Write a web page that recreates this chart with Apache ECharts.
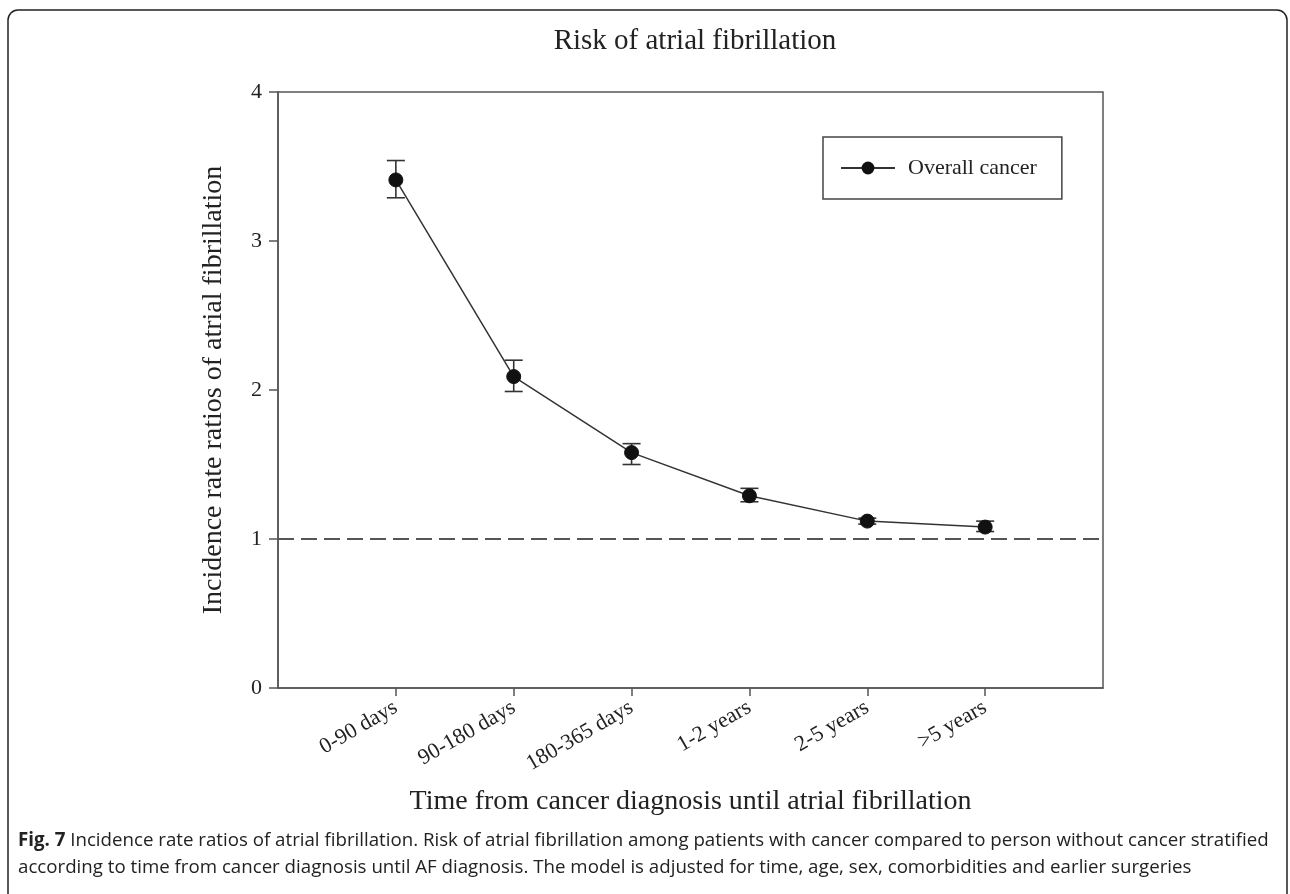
<!DOCTYPE html>
<html>
<head>
<meta charset="utf-8">
<script src="https://cdn.jsdelivr.net/npm/echarts@6/dist/echarts.min.js"></script>
<style>html,body{margin:0;padding:0;background:#fff;}#c{width:1290px;height:894px;}</style>
</head>
<body>
<div id="c"></div>
<script>
const categories = ['0-90 days', '90-180 days', '180-365 days', '1-2 years', '2-5 years', '>5 years'];
const irr = [3.41, 2.09, 1.58, 1.29, 1.12, 1.08];
const ciLow = [3.29, 1.99, 1.50, 1.25, 1.10, 1.05];
const ciHigh = [3.54, 2.20, 1.64, 1.34, 1.14, 1.12];
const xPositions = [1, 2, 3, 4, 5, 6];
const referenceValue = 1;
const seriesName = 'Overall cancer';
const titleText = 'Risk of atrial fibrillation';
const yName = 'Incidence rate ratios of atrial fibrillation';
const xName = 'Time from cancer diagnosis until atrial fibrillation';
const captionBold = 'Fig. 7';
const captionLine1 = ' Incidence rate ratios of atrial fibrillation. Risk of atrial fibrillation among patients with cancer compared to person without cancer stratified';
const captionLine2 = 'according to time from cancer diagnosis until AF diagnosis. The model is adjusted for time, age, sex, comorbidities and earlier surgeries';

const serif = '"Liberation Serif", "DejaVu Serif", serif';
const axisColor = '#555';

const pointData = xPositions.map((x, i) => [x, irr[i]]);
const errData = xPositions.map((x, i) => [x, ciLow[i], ciHigh[i]]);

const chart = echarts.init(document.getElementById('c'));
chart.setOption({
  animation: false,
  backgroundColor: '#fff',
  title: {
    text: titleText,
    left: 690, textAlign: 'center', top: 22,
    textStyle: { fontFamily: serif, fontSize: 29, fontWeight: 'normal', color: '#222' }
  },
  grid: {
    left: 278, top: 92, right: 187, bottom: 206,
    show: true, borderColor: axisColor, borderWidth: 1.5, backgroundColor: 'transparent'
  },
  legend: {
    data: [seriesName],
    left: 823, top: 137,
    orient: 'horizontal',
    borderColor: '#444', borderWidth: 1.5, borderRadius: 0,
    padding: [20, 25, 20, 17],
    itemWidth: 54, itemHeight: 16,
    textStyle: { fontFamily: serif, fontSize: 22, color: '#222', padding: [0, 0, 0, 8] }
  },
  xAxis: {
    type: 'value', min: 0, max: 7, interval: 1,
    name: xName, nameLocation: 'middle', nameGap: 100,
    nameTextStyle: { fontFamily: serif, fontSize: 28, color: '#222' },
    axisLine: { lineStyle: { color: axisColor, width: 1.5 } },
    axisTick: { show: true, inside: false, length: 8, lineStyle: { color: axisColor, width: 1.5 }, customValues: xPositions },
    axisLabel: {
      customValues: xPositions, rotate: 30, margin: 18,
      fontFamily: serif, fontSize: 22, color: '#222',
      formatter: v => categories[Math.round(v) - 1] || ''
    },
    splitLine: { show: false }
  },
  yAxis: {
    type: 'value', min: 0, max: 4, interval: 1,
    name: yName, nameLocation: 'middle', nameGap: 50, nameRotate: 90,
    nameTextStyle: { fontFamily: serif, fontSize: 28, color: '#222' },
    axisLine: { show: true, lineStyle: { color: axisColor, width: 1.5 } },
    axisTick: { show: true, inside: false, length: 9, lineStyle: { color: axisColor, width: 1.5 } },
    axisLabel: { fontFamily: serif, fontSize: 22, color: '#222', margin: 16 },
    splitLine: { show: false }
  },
  series: [
    {
      name: 'ci', type: 'custom', data: errData, z: 3,
      encode: { x: 0, y: [1, 2] },
      renderItem: (params, api) => {
        const x = api.value(0);
        const lo = api.coord([x, api.value(1)]);
        const hi = api.coord([x, api.value(2)]);
        const hw = 9;
        const st = { stroke: '#333', lineWidth: 1.6 };
        return {
          type: 'group',
          children: [
            { type: 'line', shape: { x1: lo[0], y1: lo[1], x2: hi[0], y2: hi[1] }, style: st },
            { type: 'line', shape: { x1: lo[0] - hw, y1: lo[1], x2: lo[0] + hw, y2: lo[1] }, style: st },
            { type: 'line', shape: { x1: hi[0] - hw, y1: hi[1], x2: hi[0] + hw, y2: hi[1] }, style: st }
          ]
        };
      }
    },
    {
      name: seriesName, type: 'line', data: pointData, z: 5,
      symbol: 'circle', symbolSize: 14,
      lineStyle: { color: '#333', width: 1.5 },
      itemStyle: { color: '#111', borderColor: '#111' },
      markLine: {
        silent: true, symbol: 'none', label: { show: false },
        lineStyle: { color: '#555', width: 1.8, type: [16, 7] },
        data: [{ yAxis: referenceValue }]
      }
    }
  ],
  graphic: [
    {
      type: 'rect', shape: { x: 8, y: 10, width: 1279, height: 920, r: 10 },
      style: { fill: 'none', stroke: '#222', lineWidth: 1.5 }, silent: true
    },
    {
      type: 'text', left: 18, top: 831,
      style: {
        text: '{b|' + captionBold + '}{n|' + captionLine1 + '}\n{n|' + captionLine2 + '}',
        rich: {
          b: { fontFamily: '"Open Sans", sans-serif', fontWeight: 'bold', fontSize: 18.7, fill: '#222', lineHeight: 27 },
          n: { fontFamily: '"Open Sans", sans-serif', fontSize: 18.7, fill: '#222', lineHeight: 27 }
        }
      }
    }
  ]
});
</script>
</body>
</html>
